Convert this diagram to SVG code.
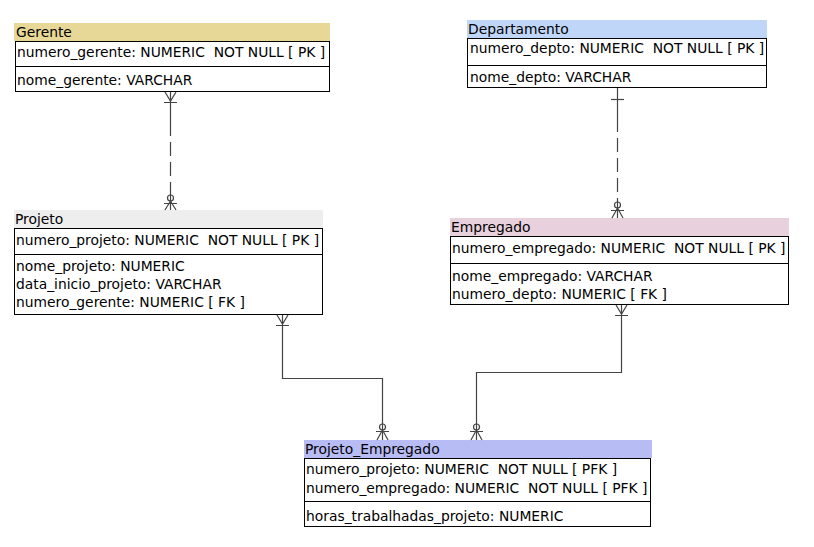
<svg xmlns="http://www.w3.org/2000/svg" width="814" height="547" viewBox="0 0 814 547">
<style>
text{font-family:"DejaVu Sans","Liberation Sans",sans-serif;font-size:13.85px;fill:#000;white-space:pre}
.box{fill:#fff;stroke:#000;stroke-width:1}
.sep{stroke:#000;stroke-width:1}
.c{fill:none;stroke:#444;stroke-width:1.2}
.d{stroke-dasharray:14,6}
.m{fill:none;stroke:#444;stroke-width:1.2}
</style>
<rect width="814" height="547" fill="#fff"/>
<g id="Gerente">
<rect x="14" y="23" width="316" height="18" fill="#e8d898"/>
<text x="16" y="37">Gerente</text>
<rect class="box" x="15.5" y="41.5" width="314" height="50"/>
<line class="sep" x1="15.5" y1="66.5" x2="329.5" y2="66.5"/>
<text x="17" y="57">numero_gerente: NUMERIC  NOT NULL [ PK ]</text>
<text x="17" y="85">nome_gerente: VARCHAR</text>
</g>
<g id="Departamento">
<rect x="467" y="20" width="300" height="18" fill="#c0d6f8"/>
<text x="468" y="34">Departamento</text>
<rect class="box" x="467.5" y="38.5" width="299" height="49"/>
<line class="sep" x1="467.5" y1="65.5" x2="766.5" y2="65.5"/>
<text x="470" y="53">numero_depto: NUMERIC  NOT NULL [ PK ]</text>
<text x="470" y="82">nome_depto: VARCHAR</text>
</g>
<g id="Projeto">
<rect x="14" y="210" width="309" height="18" fill="#eeeeee"/>
<text x="15" y="224">Projeto</text>
<rect class="box" x="14.5" y="228.5" width="308" height="86"/>
<line class="sep" x1="14.5" y1="254.5" x2="322.5" y2="254.5"/>
<text x="16" y="245">numero_projeto: NUMERIC  NOT NULL [ PK ]</text>
<text x="16" y="271">nome_projeto: NUMERIC</text>
<text x="16" y="289">data_inicio_projeto: VARCHAR</text>
<text x="16" y="307">numero_gerente: NUMERIC [ FK ]</text>
</g>
<g id="Empregado">
<rect x="450" y="218" width="339" height="18" fill="#e8d0dc"/>
<text x="451" y="232">Empregado</text>
<rect class="box" x="450.5" y="236.5" width="338" height="68"/>
<line class="sep" x1="450.5" y1="263.5" x2="788.5" y2="263.5"/>
<text x="452" y="253">numero_empregado: NUMERIC  NOT NULL [ PK ]</text>
<text x="452" y="281">nome_empregado: VARCHAR</text>
<text x="452" y="299">numero_depto: NUMERIC [ FK ]</text>
</g>
<g id="Projeto_Empregado">
<rect x="304" y="440" width="348" height="18" fill="#b8bcf4"/>
<text x="305" y="454">Projeto_Empregado</text>
<rect class="box" x="304.5" y="458.5" width="346" height="68"/>
<line class="sep" x1="304.5" y1="501.5" x2="650.5" y2="501.5"/>
<text x="306" y="474">numero_projeto: NUMERIC  NOT NULL [ PFK ]</text>
<text x="306" y="493">numero_empregado: NUMERIC  NOT NULL [ PFK ]</text>
<text x="306" y="521">horas_trabalhadas_projeto: NUMERIC</text>
</g>
<g id="connectors">
<path class="c" d="M170.5,92 V122"/>
<path class="c d" d="M170.5,122 V194"/>
<path class="c" d="M170.5,194 V210"/>
<path class="m" d="M165,92 L170.5,101 L176,92 M164,102.5 H177"/>
<circle class="m" cx="170.5" cy="198" r="3"/>
<path class="m" d="M164,203.5 H177 M170.5,201 L165,210 M170.5,201 L176,210"/>
<path class="c" d="M617.5,88 V118"/>
<path class="c d" d="M617.5,118 V200"/>
<path class="c" d="M617.5,200 V218"/>
<path class="m" d="M611,99.5 H624"/>
<circle class="m" cx="617.5" cy="205" r="3"/>
<path class="m" d="M611,210.5 H624 M617.5,208 L612,218 M617.5,208 L623,218"/>
<path class="c" d="M282.5,315 V378.5 H382.5 V440"/>
<path class="m" d="M277,315 L282.5,324 L288,315 M276,325.5 H289"/>
<circle class="m" cx="382.5" cy="427" r="3"/>
<path class="m" d="M376,431.5 H389 M382.5,430 L377,440 M382.5,430 L388,440"/>
<path class="c" d="M621.5,305 V372.5 H476.5 V440"/>
<path class="m" d="M616,305 L621.5,314 L627,305 M615,315.5 H628"/>
<circle class="m" cx="476.5" cy="427" r="3"/>
<path class="m" d="M470,431.5 H483 M476.5,430 L471,440 M476.5,430 L482,440"/>
</g>
</svg>
